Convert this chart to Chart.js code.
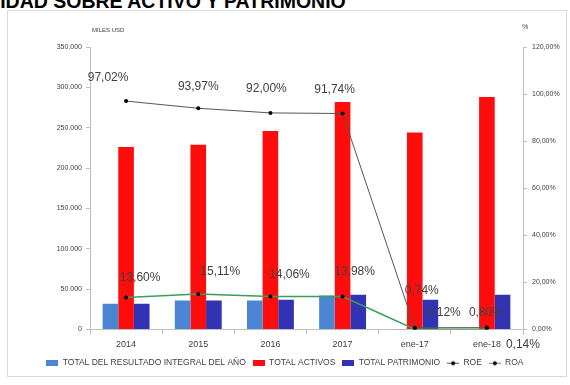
<!DOCTYPE html>
<html>
<head>
<meta charset="utf-8">
<script src="https://cdn.jsdelivr.net/npm/chart.js@4.4.0/dist/chart.umd.min.js"></script>
<style>
  body { margin: 0; background: #fff; overflow: hidden; }
  #titulo {
    position: absolute; left: -97px; top: -8px; white-space: nowrap;
    font: bold 19.5px "Liberation Sans", Arial, sans-serif; line-height: 18px; color: #000;
  }
  #marco {
    position: absolute; left: 7px; top: 10px; width: 558px; height: 365px;
    border: 1px solid #d9d9d9;
  }
  #myChart { position: absolute; left: 0; top: 0; }
</style>
</head>
<body>
<div id="titulo">RENTABILIDAD SOBRE ACTIVO Y PATRIMONIO</div>
<div id="marco"></div>
<canvas id="myChart" width="570" height="385"></canvas>
<script>
// Datos (miles USD y %)
const categorias = ['2014', '2015', '2016', '2017', 'ene-17', 'ene-18'];
const resultadoIntegral = [32000, 36000, 36000, 42000, 300, 350];
const totalActivos = [226000, 229000, 246000, 282000, 244000, 288000];
const totalPatrimonio = [32000, 36000, 37000, 43000, 37000, 43000];
const roe = [97.02, 93.97, 92.00, 91.74, 0.74, 0.80];
const roa = [13.60, 15.11, 14.06, 13.98, 0.12, 0.14];

const ticksMiles = [0, 50000, 100000, 150000, 200000, 250000, 300000, 350000];
const ticksPct = [0, 20, 40, 60, 80, 100, 120];

// desplazamiento de las etiquetas de las lineas respecto al punto
const offsetRoe = [[-18, -23], [0, -22], [-4, -24], [-8, -24], [7, -37], [-1, -15]];
const offsetRoa = [[14, -20], [22, -22], [19, -22], [12, -25], [29, -17], [36, 16]];

const fuente = '"Liberation Sans", Arial, sans-serif';
const gris = '#404040';

function miles(v) {
    return v.toFixed(0).replace(/\B(?=(\d{3})+(?!\d))/g, '.');
}
function pct(v) {
    return v.toFixed(2).replace('.', ',') + '%';
}

// iconos de la leyenda
function cajaLeyenda(color) {
    const c = document.createElement('canvas');
    c.width = 12; c.height = 6;
    const g = c.getContext('2d');
    g.fillStyle = color;
    g.fillRect(0, 0, 12, 6);
    return c;
}
function lineaLeyenda(color) {
    const c = document.createElement('canvas');
    c.width = 12; c.height = 6;
    const g = c.getContext('2d');
    g.strokeStyle = color;
    g.lineWidth = 1;
    g.beginPath(); g.moveTo(0, 3.5); g.lineTo(12, 3.5); g.stroke();
    g.fillStyle = '#000';
    g.beginPath(); g.arc(6, 3.5, 2, 0, Math.PI * 2); g.fill();
    return c;
}

const etiquetasLineas = {
    id: 'etiquetasLineas',
    afterDatasetsDraw(chart) {
        const ctx = chart.ctx;
        ctx.save();
        ctx.font = '12px ' + fuente;
        ctx.fillStyle = gris;
        ctx.textAlign = 'center';
        ctx.textBaseline = 'middle';
        [[3, roe, offsetRoe], [4, roa, offsetRoa]].forEach(([idx, valores, offs]) => {
            const meta = chart.getDatasetMeta(idx);
            meta.data.forEach((p, i) => {
                ctx.fillText(pct(valores[i]), p.x + offs[i][0], p.y + offs[i][1]);
            });
        });
        // titulos de los ejes
        const a = chart.chartArea;
        ctx.font = '6px ' + fuente;
        ctx.textAlign = 'left';
        ctx.fillText('MILES USD', a.left + 2, a.top - 17);
        ctx.font = '7px ' + fuente;
        ctx.fillText('%', a.right - 1, a.top - 20);
        ctx.restore();
    }
};

var ctx = document.getElementById('myChart').getContext('2d');
var myChart = new Chart(ctx, {
    type: 'bar',
    data: {
        labels: categorias,
        datasets: [
            {
                label: 'TOTAL DEL RESULTADO INTEGRAL DEL AÑO',
                data: resultadoIntegral,
                backgroundColor: '#4a86d4',
                yAxisID: 'y',
                order: 1,
            },
            {
                label: 'TOTAL ACTIVOS',
                data: totalActivos,
                backgroundColor: '#ff0d0d',
                yAxisID: 'y',
                order: 1,
            },
            {
                label: 'TOTAL PATRIMONIO',
                data: totalPatrimonio,
                backgroundColor: '#3232b4',
                yAxisID: 'y',
                order: 1,
            },
            {
                type: 'line',
                label: 'ROE',
                data: roe,
                borderColor: '#555555',
                borderWidth: 1,
                pointRadius: 2,
                pointBackgroundColor: '#000',
                pointBorderWidth: 0,
                yAxisID: 'y1',
                order: 0,
            },
            {
                type: 'line',
                label: 'ROA',
                data: roa,
                borderColor: '#3a9e5a',
                borderWidth: 1.5,
                pointRadius: 2,
                pointBackgroundColor: '#000',
                pointBorderWidth: 0,
                yAxisID: 'y1',
                order: 0,
            },
        ]
    },
    options: {
        responsive: false,
        animation: false,
        layout: { padding: { top: 47, left: 0, right: 0, bottom: 8 } },
        datasets: {
            bar: { categoryPercentage: 0.65, barPercentage: 1.0 }
        },
        plugins: {
            tooltip: { enabled: false },
            legend: {
                position: 'bottom',
                labels: {
                    usePointStyle: true,
                    pointStyleWidth: 12,
                    boxHeight: 6,
                    padding: 7,
                    color: gris,
                    font: { family: fuente, size: 8.5 },
                    generateLabels(chart) {
                        return chart.data.datasets.map((ds, i) => ({
                            text: ds.label,
                            pointStyle: ds.type === 'line' ? lineaLeyenda(ds.borderColor) : cajaLeyenda(ds.backgroundColor),
                            fontColor: gris,
                            datasetIndex: i,
                            hidden: false,
                            lineWidth: 0,
                        }));
                    }
                }
            }
        },
        scales: {
            x: {
                afterFit(s) { s.height = 22; },
                grid: { display: true, drawOnChartArea: false, offset: true, tickLength: 5, color: '#bfbfbf' },
                border: { color: '#bfbfbf' },
                ticks: { padding: 5, color: gris, font: { family: fuente, size: 9 }, maxRotation: 0 },
            },
            y: {
                position: 'left',
                min: 0,
                max: 350000,
                afterFit(s) { s.width = 90; },
                afterBuildTicks(s) { s.ticks = ticksMiles.map(v => ({ value: v })); },
                grid: { drawOnChartArea: false, tickLength: 4, color: '#bfbfbf' },
                border: { color: '#bfbfbf' },
                ticks: { padding: 4, color: gris, font: { family: fuente, size: 7 }, callback: v => miles(v) },
            },
            y1: {
                position: 'right',
                min: 0,
                max: 120,
                afterFit(s) { s.width = 47; },
                afterBuildTicks(s) { s.ticks = ticksPct.map(v => ({ value: v })); },
                grid: { drawOnChartArea: false, tickLength: 4, color: '#bfbfbf' },
                border: { color: '#bfbfbf' },
                ticks: { padding: 5, color: gris, font: { family: fuente, size: 7 }, callback: v => pct(v) },
            }
        }
    },
    plugins: [etiquetasLineas]
});
</script>
</body>
</html>
